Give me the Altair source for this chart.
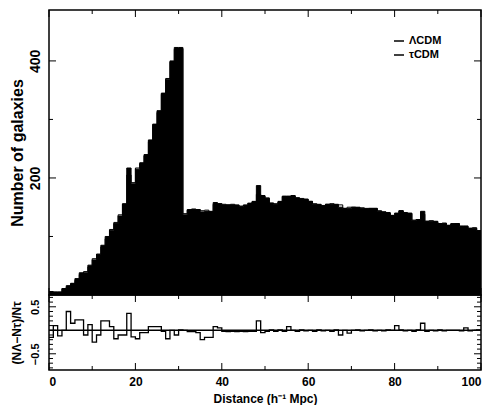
import altair as alt
import pandas as pd

# ---------------- data ----------------
edges = list(range(0, 101))  # 1 h^-1 Mpc bins
lcdm = [5, 5, 5, 11, 16, 20, 28, 38, 38, 51,
        60, 69, 85, 100, 110, 122, 135, 156, 217, 190,
        215, 226, 240, 265, 292, 315, 345, 368, 400, 423,
        423, 137, 146, 146, 146, 142, 143, 143, 158, 156,
        154, 154, 154, 154, 151, 153, 157, 160, 187, 169,
        165, 157, 155, 160, 169, 169, 169, 166, 164, 164,
        160, 155, 155, 152, 155, 155, 155, 150, 148, 148,
        150, 150, 148, 148, 148, 148, 143, 142, 140, 136,
        140, 144, 140, 140, 127, 129, 143, 126, 126, 126,
        122, 122, 119, 122, 122, 117, 118, 114, 114, 110]
tcdm = [6, 5, 5, 11, 14, 19, 25, 35, 40, 48,
        62, 70, 82, 96, 112, 124, 137, 155, 205, 192,
        217, 224, 238, 262, 290, 312, 343, 370, 398, 420,
        421, 139, 145, 147, 146, 144, 145, 142, 155, 156,
        155, 154, 155, 153, 152, 154, 152, 159, 172, 170,
        166, 157, 156, 159, 168, 164, 170, 166, 165, 163,
        160, 156, 154, 153, 155, 156, 154, 154, 148, 150,
        150, 149, 149, 147, 148, 148, 144, 142, 141, 136,
        136, 144, 141, 139, 128, 129, 138, 126, 127, 125,
        122, 123, 119, 121, 122, 118, 117, 114, 115, 110]
resid = [-0.15, 0.10, -0.12, 0.00, 0.40, 0.15, 0.22, 0.22, -0.10, 0.12,
         -0.25, -0.10, 0.20, 0.20, 0.08, -0.18, -0.10, -0.10, 0.36, -0.14,
         -0.18, -0.05, -0.05, 0.08, 0.08, 0.08, -0.02, -0.18, 0.00, -0.10,
         0.01, 0.00, -0.03, -0.03, -0.05, -0.20, -0.15, -0.15, 0.08, 0.05,
         -0.02, -0.03, -0.02, -0.03, -0.02, -0.03, -0.02, -0.02, 0.20, -0.05,
         -0.02, 0.01, -0.02, 0.01, -0.02, 0.08, 0.00, -0.02, 0.01, -0.01,
         0.00, -0.02, 0.01, -0.01, 0.00, -0.02, 0.01, -0.10, 0.00, -0.06,
         0.00, 0.01, -0.01, 0.00, 0.01, -0.01, 0.00, -0.01, 0.01, 0.00,
         0.10, 0.01, -0.01, 0.00, -0.02, 0.01, 0.15, -0.02, 0.00, -0.01,
         0.01, -0.01, 0.00, 0.00, 0.00, -0.01, 0.05, -0.01, 0.00, 0.01]
series_names = ["ΛCDM", "τCDM"]
x_major = [0, 20, 40, 60, 80, 100]
x_minor = [10, 30, 50, 70, 90]
top_major = [200, 400]
top_minor = [100, 300]
low_major = [-0.5, 0.0, 0.5]
low_minor = [-0.8, -0.7, -0.6, -0.4, -0.3, -0.2, -0.1, 0.1, 0.2, 0.3, 0.4, 0.6, 0.7]

# ---------------- layout ----------------
W = 432
H_TOP = 285
H_LOW = 75
FONT = "Liberation Sans"

xscale = alt.Scale(domain=[0, 100], nice=False, zero=False)
ytop_scale = alt.Scale(domain=[0, 487], nice=False)
ylow_scale = alt.Scale(domain=[-0.845, 0.751], nice=False, zero=False)

hist_df = pd.DataFrame({"d": edges, "n": lcdm + [lcdm[-1]]})
line_df = pd.concat([
    pd.DataFrame({"d": edges, "n": lcdm + [lcdm[-1]], "model": series_names[0]}),
    pd.DataFrame({"d": edges, "n": tcdm + [tcdm[-1]], "model": series_names[1]}),
])
resid_df = pd.DataFrame({"d": edges, "r": resid + [resid[-1]]})


def tick_layers(yscale, h, ymaj, ymin, show_x_axis, maj=7, mnr=4):
    layers = []
    for vals, L in ((x_major, maj), (x_minor, mnr)):
        base = alt.Chart(pd.DataFrame({"v": vals})).mark_rule(color="black", strokeWidth=1)
        enc_x = alt.X("v:Q", scale=xscale) if show_x_axis else alt.X("v:Q", scale=xscale, axis=None)
        layers.append(base.encode(x=enc_x, y=alt.value(0), y2=alt.value(L)))
        layers.append(base.encode(x=enc_x, y=alt.value(h), y2=alt.value(h - L)))
    for vals, L in ((ymaj, maj), (ymin, mnr)):
        base = alt.Chart(pd.DataFrame({"v": vals})).mark_rule(color="black", strokeWidth=1)
        enc_y = alt.Y("v:Q", scale=yscale)
        layers.append(base.encode(y=enc_y, x=alt.value(0), x2=alt.value(L)))
        layers.append(base.encode(y=enc_y, x=alt.value(W), x2=alt.value(W - L)))
    return layers


area = alt.Chart(hist_df).mark_area(interpolate="step-after", color="black").encode(
    x=alt.X("d:Q", scale=xscale, axis=None),
    y=alt.Y("n:Q", scale=ytop_scale,
            axis=alt.Axis(values=top_major, title="Number of galaxies", labelAngle=-90,
                          labelAlign="center", labelBaseline="bottom", labelFontSize=14,
                          labelPadding=7, titleFontSize=16, titlePadding=3)),
)
lines = alt.Chart(line_df).mark_line(interpolate="step-after", strokeWidth=1).encode(
    x=alt.X("d:Q", scale=xscale, axis=None),
    y=alt.Y("n:Q", scale=ytop_scale),
    color=alt.Color("model:N", scale=alt.Scale(domain=series_names, range=["black", "black"]),
                    legend=alt.Legend(orient="none", legendX=344, legendY=25, title=None,
                                      symbolType="stroke", symbolSize=100, symbolStrokeWidth=1.5,
                                      labelFont=FONT, labelFontSize=11, labelFontWeight="bold",
                                      labelColor="black", rowPadding=3, padding=0)),
)
top = alt.layer(area, lines, *tick_layers(ytop_scale, H_TOP, top_major, top_minor, False)).properties(
    width=W, height=H_TOP)

rline = alt.Chart(resid_df).mark_line(interpolate="step-after", color="black", strokeWidth=1.3).encode(
    x=alt.X("d:Q", scale=xscale,
            axis=alt.Axis(values=x_major, title="Distance (h⁻¹ Mpc)", labelFontSize=12,
                          labelPadding=6, titleFontSize=12, titlePadding=6)),
    y=alt.Y("r:Q", scale=ylow_scale,
            axis=alt.Axis(values=low_major, format=".1~f", title="(NΛ−Nτ)/Nτ", labelAngle=-90,
                          labelAlign="center", labelBaseline="bottom", labelFontSize=11,
                          labelPadding=9, labelOverlap=False, titleFontSize=12, titlePadding=6)),
)
zero = alt.Chart(pd.DataFrame({"z": [0.0]})).mark_rule(color="black", strokeWidth=1.5).encode(
    y=alt.Y("z:Q", scale=ylow_scale))
low = alt.layer(rline, zero, *tick_layers(ylow_scale, H_LOW, low_major, low_minor, True)).properties(
    width=W, height=H_LOW)

chart = alt.vconcat(top, low, spacing=0, bounds="flush").properties(
    padding={"left": 0, "top": 0, "right": 5, "bottom": 0}
).configure_view(stroke="black", strokeWidth=1.5).configure_axis(
    labelFont=FONT, titleFont=FONT, labelFontWeight="bold", titleFontWeight="bold",
    labelColor="black", titleColor="black", ticks=False, domain=False, grid=False,
    labelOverlap=False,
)

chart.save("out.html", embed_options={"renderer": "svg", "actions": False})
